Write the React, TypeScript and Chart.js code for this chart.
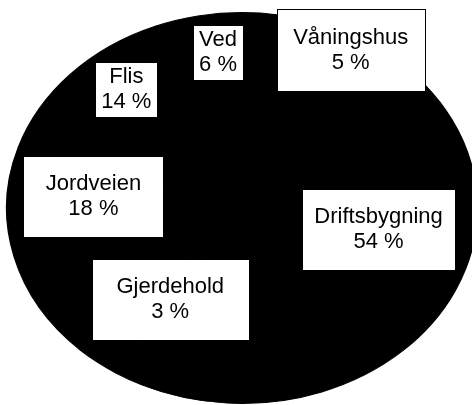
import React, { useEffect, useRef } from "react";
import { Chart, registerables } from "chart.js";
Chart.register(...registerables);

const categories = ["Våningshus", "Driftsbygning", "Gjerdehold", "Jordveien", "Flis", "Ved"];
const shares = [5, 54, 3, 18, 14, 6];
const percentLabels = ["5 %", "54 %", "3 %", "18 %", "14 %", "6 %"];

// label layout (styling): angle nudge in degrees, radial fraction, box size
const labelAngleNudge = [20.8, -14.7, -4.8, 19.9, 7.8, 3.5];
const labelRadius = [0.929, 0.59, 0.56, 0.634, 0.781, 0.802];
const boxWidth = [148, 153, 157, 140, 62, 50];
const boxHeight = [82, 81, 81, 81, 55, 55];

const SX = 236 / 196;
const FONT = "22px 'Liberation Sans', Arial, sans-serif";
const LINE_H = 25;

const ellipsePlugin = {
  id: "ellipse",
  beforeDatasetsDraw(chart: any) {
    const arc = chart.getDatasetMeta(0).data[0];
    const ctx = chart.ctx;
    ctx.save();
    ctx.translate(arc.x, arc.y);
    ctx.scale(SX, 1);
    ctx.translate(-arc.x, -arc.y);
  },
  afterDatasetsDraw(chart: any) {
    chart.ctx.restore();
  },
};

const labelPlugin = {
  id: "boxLabels",
  afterDraw(chart: any) {
    const ctx = chart.ctx;
    const meta = chart.getDatasetMeta(0);
    ctx.save();
    meta.data.forEach((el: any, i: number) => {
      const { x, y, startAngle, endAngle, outerRadius } = el.getProps(
        ["x", "y", "startAngle", "endAngle", "outerRadius"],
        true
      );
      const a = (startAngle + endAngle) / 2 + (labelAngleNudge[i] * Math.PI) / 180;
      const f = labelRadius[i];
      const px = x + f * outerRadius * SX * Math.cos(a);
      const py = y + f * outerRadius * Math.sin(a);
      const w = boxWidth[i];
      const h = boxHeight[i];
      const bx = Math.round(px - w / 2) + 0.5;
      const by = Math.round(py - h / 2) + 0.5;
      ctx.fillStyle = "#ffffff";
      ctx.fillRect(bx, by, w, h);
      ctx.strokeStyle = "#000000";
      ctx.lineWidth = 1;
      ctx.strokeRect(bx, by, w, h);
      ctx.fillStyle = "#000000";
      ctx.font = FONT;
      ctx.textAlign = "center";
      ctx.textBaseline = "middle";
      ctx.fillText(categories[i], px, py - LINE_H / 2);
      ctx.fillText(percentLabels[i], px, py + LINE_H / 2);
    });
    ctx.restore();
  },
};

export default function App() {
  const ref = useRef<HTMLCanvasElement | null>(null);
  useEffect(() => {
    document.body.style.margin = "0";
    document.body.style.background = "#ffffff";
    const canvas = ref.current!;
    const chart = new Chart(canvas, {
      type: "pie",
      data: {
        labels: categories,
        datasets: [
          {
            data: shares,
            backgroundColor: "#000000",
            borderColor: "#000000",
            borderWidth: 1,
            hoverOffset: 0,
          },
        ],
      },
      options: {
        responsive: false,
        animation: false,
        devicePixelRatio: 1,
        layout: { padding: { top: 12, bottom: 1, left: 46, right: 34 } },
        plugins: {
          legend: { display: false },
          tooltip: { enabled: false },
        },
        events: [],
      },
      plugins: [ellipsePlugin, labelPlugin],
    });
    return () => chart.destroy();
  }, []);
  return (
    <canvas
      ref={ref}
      width={472}
      height={405}
      style={{ display: "block", width: 472, height: 405 }}
    />
  );
}
